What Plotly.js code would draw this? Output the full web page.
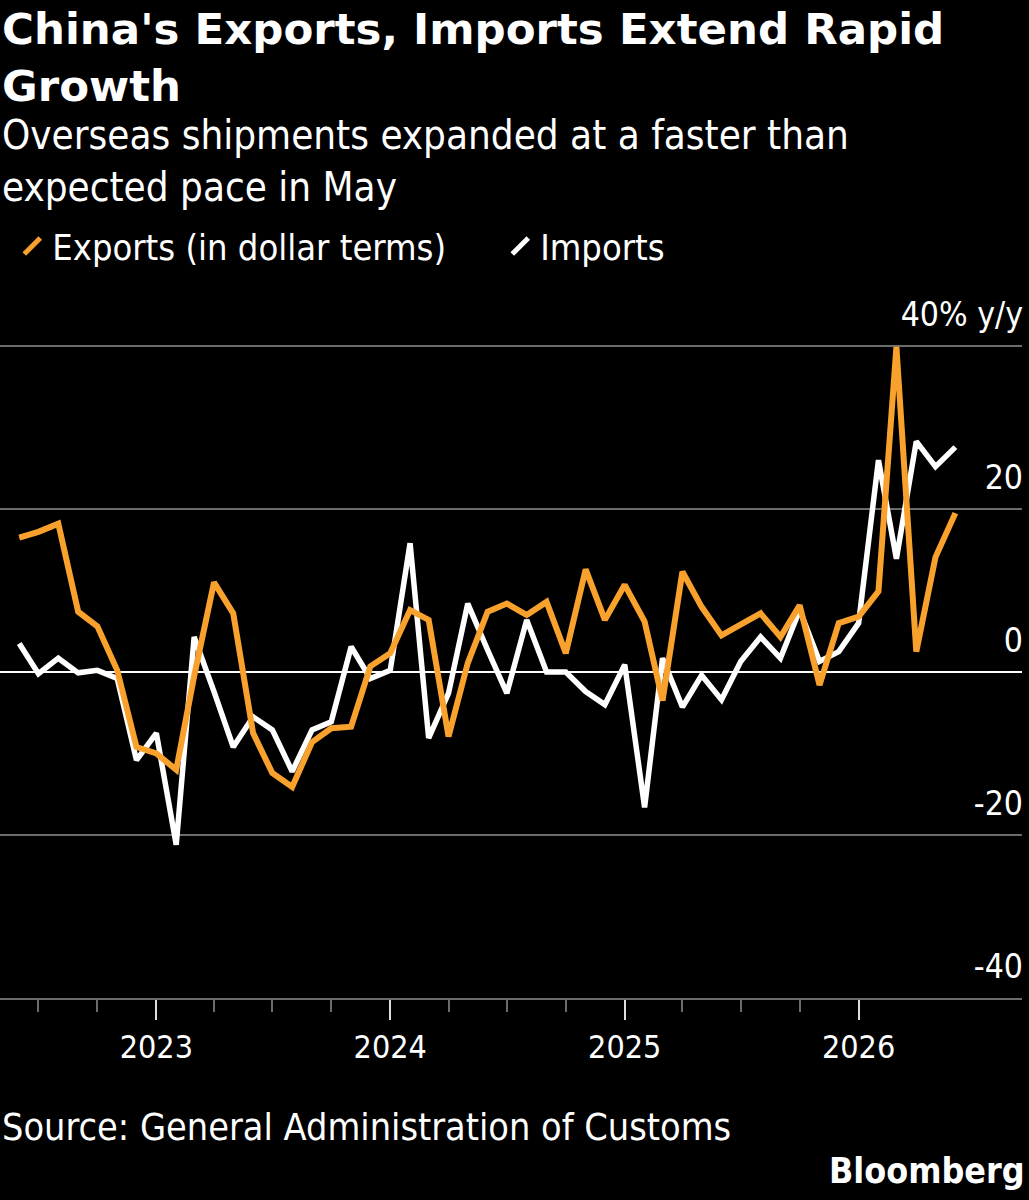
<!DOCTYPE html>
<html>
<head>
<meta charset="utf-8">
<script src="https://cdn.plot.ly/plotly-3.0.1.min.js"></script>
<style>
html,body{margin:0;padding:0;background:#000;}
#chart{width:1029px;height:1200px;}
</style>
</head>
<body>
<div id="chart"></div>
<script>
// ---- data ----
const months = [
  '2022-06-01','2022-07-01','2022-08-01','2022-09-01','2022-10-01','2022-11-01','2022-12-01',
  '2023-01-01','2023-02-01','2023-03-01','2023-04-01','2023-05-01','2023-06-01','2023-07-01',
  '2023-08-01','2023-09-01','2023-10-01','2023-11-01','2023-12-01',
  '2024-01-01','2024-02-01','2024-03-01','2024-04-01','2024-05-01','2024-06-01','2024-07-01',
  '2024-08-01','2024-09-01','2024-10-01','2024-11-01','2024-12-01',
  '2025-01-01','2025-02-01','2025-03-01','2025-04-01','2025-05-01','2025-06-01','2025-07-01',
  '2025-08-01','2025-09-01','2025-10-01','2025-11-01','2025-12-01',
  '2026-01-01','2026-02-01','2026-03-01','2026-04-01','2026-05-01','2026-06-01'
];
const exportsYoY = [
  16.5, 17.2, 18.2, 7.4, 5.6, 0.2, -9.2,
  -10.0, -12.0, -0.5, 11.0, 7.2, -7.5, -12.4,
  -14.1, -8.6, -6.9, -6.7, 0.7,
  2.3, 7.6, 6.4, -7.9, 1.1, 7.4, 8.4,
  7.0, 8.6, 2.3, 12.6, 6.4,
  10.7, 6.2, -3.5, 12.3, 8.0, 4.5, 5.8,
  7.2, 4.3, 8.2, -1.6, 6.0,
  6.8, 9.9, 39.9, 2.5, 14.1, 19.5
];
const importsYoY = [
  3.5, -0.2, 1.7, -0.1, 0.2, -0.8, -10.8,
  -7.5, -21.2, 4.3, -2.4, -9.2, -5.5, -7.1,
  -12.2, -7.1, -6.1, 3.1, -0.8,
  0.2, 15.8, -8.1, -2.6, 8.4, 2.7, -2.6,
  6.4, 0.0, 0.0, -2.4, -4.0,
  0.9, -16.6, 1.7, -4.3, -0.4, -3.4, 1.3,
  4.3, 1.7, 7.6, 1.3, 2.5,
  6.0, 26.0, 13.9, 28.3, 25.2, 27.6
];
const seriesNames = ['Exports (in dollar terms)', 'Imports'];
const yTickVals = [-40, -20, 0, 20, 40];
const yTickText = ['-40', '-20', '0', '20', '40% y/y'];
const titleText = "China's Exports, Imports Extend Rapid<br>Growth";
const subtitleText = 'Overseas shipments expanded at a faster than<br>expected pace in May';
const sourceText = 'Source: General Administration of Customs';
const brandText = 'Bloomberg';

// ---- style ----
const ORANGE = '#F9A12D';
const WHITE = '#FFFFFF';
const GRID = '#6b6b6b';
const COND = '"DejaVu Sans Condensed", "DejaVu Sans", sans-serif';

// plot area: bottom at 998px, top at 289px (y range -40..47)
const PT = 289, PB = 998, PH = PB - PT;
const py = (pix) => (PB - pix) / PH;   // page pixel row -> paper y

const traces = [
  {x: months, y: importsYoY, type: 'scatter', mode: 'lines', name: seriesNames[1],
   line: {color: WHITE, width: 5.5}, showlegend: false, hoverinfo: 'x+y'},
  {x: months, y: exportsYoY, type: 'scatter', mode: 'lines', name: seriesNames[0],
   line: {color: ORANGE, width: 6}, showlegend: false, hoverinfo: 'x+y'},
  // legend-only entries (slash icons)
  {x: [null], y: [null], type: 'scatter', mode: 'markers', name: seriesNames[0],
   marker: {symbol: 'line-ne', size: 16, color: ORANGE, line: {color: ORANGE, width: 5}}, showlegend: true},
  {x: [null], y: [null], type: 'scatter', mode: 'markers', name: seriesNames[1],
   marker: {symbol: 'line-ne', size: 16, color: WHITE, line: {color: WHITE, width: 5}}, showlegend: true}
];

const layout = {
  width: 1029, height: 1200,
  paper_bgcolor: '#000', plot_bgcolor: '#000',
  margin: {l: 0, r: 7, t: PT, b: 1200 - PB},
  font: {family: COND, color: WHITE, size: 30},
  title: {
    text: titleText,
    font: {family: '"DejaVu Sans", sans-serif', size: 43.5, color: WHITE, weight: 'bold'},
    x: 0, xref: 'container', xanchor: 'left',
    y: 0.963, yref: 'container', yanchor: 'top',
    pad: {l: 2}
  },
  legend: {
    orientation: 'h', x: 0.012, xanchor: 'left', y: py(246), yanchor: 'middle',
    font: {family: COND, size: 36, color: WHITE},
    bgcolor: 'rgba(0,0,0,0)', itemwidth: 30, traceorder: 'normal',
    entrywidth: 443, entrywidthmode: 'pixels'
  },
  xaxis: {
    type: 'date',
    range: ['2022-05-02', '2026-09-13'],
    tick0: '2022-01-01', dtick: 'M12', tickformat: '%Y',
    ticks: 'outside', ticklen: 20, tickwidth: 2, tickcolor: '#dddddd',
    minor: {dtick: 'M3', tick0: '2022-01-01', ticks: 'outside', ticklen: 12, tickwidth: 2, tickcolor: GRID, showgrid: false},
    showgrid: false, zeroline: false,
    showline: true, linecolor: GRID, linewidth: 2,
    tickfont: {family: COND, size: 32, color: WHITE},
    fixedrange: true
  },
  yaxis: {
    range: [-40, 47],
    side: 'right',
    tickvals: yTickVals, ticktext: yTickText,
    ticklabelposition: 'inside top',
    ticks: '',
    showgrid: true, gridcolor: GRID, gridwidth: 2,
    zeroline: true, zerolinecolor: WHITE, zerolinewidth: 2,
    showline: false,
    tickfont: {family: COND, size: 33.5, color: WHITE},
    ticklabelshift: -8,
    ticklabelstandoff: -4,
    fixedrange: true
  },
  annotations: [
    {text: subtitleText, xref: 'paper', yref: 'paper', x: 0, y: py(110), xanchor: 'left', yanchor: 'top',
     align: 'left', showarrow: false, font: {family: COND, size: 40, color: WHITE}},
    {text: sourceText, xref: 'paper', yref: 'paper', x: 0, y: py(1127), xanchor: 'left', yanchor: 'middle',
     align: 'left', showarrow: false, font: {family: COND, size: 37.5, color: WHITE}},
    {text: '<b>' + brandText + '</b>', xref: 'paper', yref: 'paper', x: 1, y: py(1170), xanchor: 'right', yanchor: 'middle',
     xshift: 5, align: 'right', showarrow: false, font: {family: COND, size: 35.5, color: WHITE}}
  ],
  showlegend: true
};

Plotly.newPlot('chart', traces, layout, {displayModeBar: false, staticPlot: true});
</script>
</body>
</html>
